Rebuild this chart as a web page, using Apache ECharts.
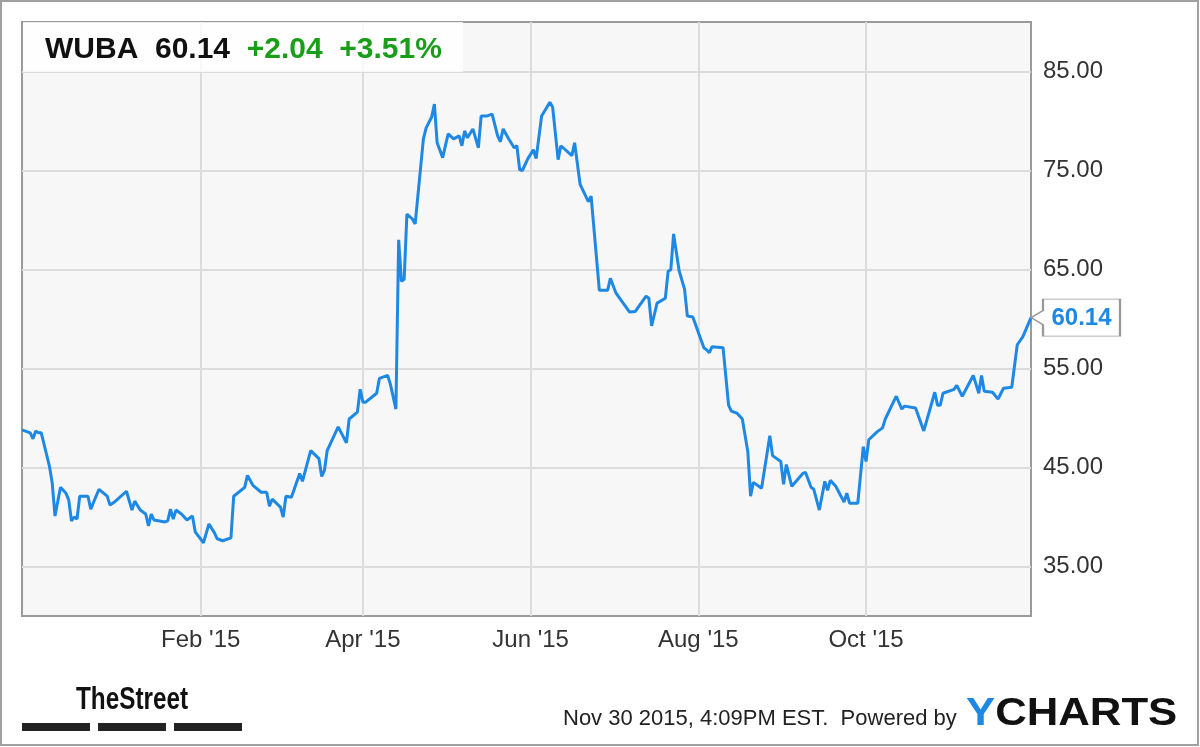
<!DOCTYPE html>
<html><head><meta charset="utf-8">
<script src="https://cdn.jsdelivr.net/npm/echarts@6/dist/echarts.min.js"></script>
<style>html,body{margin:0;padding:0;background:#fff}#c{width:1200px;height:747px}</style>
</head><body><div id="c"></div>
<script>
const ticker = 'WUBA';
const lastPrice = '60.14';
const change = '+2.04';
const changePct = '+3.51%';

const dates = [
'2014-11-28','2014-12-01','2014-12-02','2014-12-03','2014-12-04','2014-12-05','2014-12-08','2014-12-09','2014-12-10','2014-12-12',
'2014-12-14','2014-12-15','2014-12-16','2014-12-17','2014-12-18','2014-12-19','2014-12-22','2014-12-23','2014-12-26','2014-12-29',
'2014-12-30','2015-01-01','2015-01-05','2015-01-07','2015-01-08','2015-01-10','2015-01-12','2015-01-13','2015-01-14','2015-01-15',
'2015-01-19','2015-01-20','2015-01-21','2015-01-22','2015-01-23','2015-01-25','2015-01-27','2015-01-29','2015-01-30','2015-02-02',
'2015-02-04','2015-02-06','2015-02-07','2015-02-09','2015-02-12','2015-02-13','2015-02-17','2015-02-18','2015-02-20','2015-02-23',
'2015-02-25','2015-02-26','2015-02-27','2015-03-02','2015-03-03','2015-03-04','2015-03-06','2015-03-09','2015-03-10','2015-03-13',
'2015-03-16','2015-03-17','2015-03-18','2015-03-19','2015-03-23','2015-03-26','2015-03-27','2015-03-30','2015-03-31','2015-04-01',
'2015-04-02','2015-04-06','2015-04-07','2015-04-10','2015-04-11','2015-04-13','2015-04-14','2015-04-15','2015-04-16','2015-04-17',
'2015-04-19','2015-04-20','2015-04-23','2015-04-24','2015-04-26','2015-04-27','2015-04-28','2015-04-30','2015-05-02','2015-05-04',
'2015-05-06','2015-05-07','2015-05-08','2015-05-09','2015-05-11','2015-05-13','2015-05-14','2015-05-16','2015-05-18','2015-05-20',
'2015-05-21','2015-05-22','2015-05-24','2015-05-26','2015-05-27','2015-05-28','2015-05-29','2015-05-31','2015-06-02','2015-06-03',
'2015-06-05','2015-06-08','2015-06-09','2015-06-11','2015-06-12','2015-06-16','2015-06-17','2015-06-19','2015-06-22','2015-06-23',
'2015-06-26','2015-06-29','2015-06-30','2015-07-02','2015-07-07','2015-07-09','2015-07-13','2015-07-14','2015-07-15','2015-07-17',
'2015-07-20','2015-07-21','2015-07-22','2015-07-23','2015-07-25','2015-07-27','2015-07-28','2015-07-30','2015-08-03','2015-08-04',
'2015-08-05','2015-08-06','2015-08-10','2015-08-12','2015-08-13','2015-08-15','2015-08-17','2015-08-19','2015-08-20','2015-08-21',
'2015-08-24','2015-08-27','2015-08-28','2015-08-31','2015-09-01','2015-09-02','2015-09-04','2015-09-08','2015-09-09','2015-09-11',
'2015-09-12','2015-09-14','2015-09-16','2015-09-17','2015-09-18','2015-09-20','2015-09-23','2015-09-24','2015-09-25','2015-09-28',
'2015-09-30','2015-10-01','2015-10-02','2015-10-05','2015-10-07','2015-10-08','2015-10-12','2015-10-14','2015-10-15','2015-10-19',
'2015-10-22','2015-10-26','2015-10-27','2015-10-28','2015-10-29','2015-11-02','2015-11-03','2015-11-05','2015-11-09','2015-11-11',
'2015-11-12','2015-11-13','2015-11-16','2015-11-18','2015-11-20','2015-11-23','2015-11-25','2015-11-27','2015-11-30'
];
const prices = [
48.8,48.5,47.9,48.7,48.5,48.5,45.1,43.4,40.1,43.0,
42.4,41.7,39.6,40.0,39.8,42.1,42.1,40.8,42.8,42.1,
41.2,41.6,42.6,40.7,41.6,40.7,40.3,39.1,40.3,39.7,
39.5,39.6,40.8,39.8,40.7,40.3,39.7,40.1,38.5,37.4,
39.3,38.4,37.8,37.6,37.9,42.1,43.0,44.2,43.2,42.5,
42.5,41.1,41.8,41.0,40.0,42.1,42.0,44.4,43.6,46.7,
45.9,44.1,44.7,46.7,49.1,47.5,49.9,50.6,52.9,51.6,
51.6,52.5,54.0,54.3,53.4,50.9,68.0,63.8,64.0,70.6,
70.1,69.6,78.2,79.3,80.4,81.7,77.8,76.3,78.7,78.2,
78.5,77.5,79.0,78.3,79.2,77.3,80.5,80.5,80.7,78.5,
77.9,79.2,78.2,77.3,77.5,75.1,75.0,76.2,77.1,76.2,
80.5,81.9,81.4,76.1,77.5,76.5,77.8,73.6,71.85,72.4,
62.9,62.9,64.1,62.65,60.7,60.75,62.3,62.1,59.3,61.6,
62.1,64.8,65.0,68.6,64.9,63.0,60.3,60.2,57.1,56.9,
56.6,57.2,57.1,51.3,50.7,50.5,49.9,46.6,42.1,43.5,
42.9,48.2,46.2,45.6,43.3,45.3,43.1,44.4,44.5,43.0,
42.8,40.7,43.6,42.7,43.7,43.1,41.5,42.4,41.4,41.4,
47.1,45.6,47.8,48.6,49.0,49.9,52.2,50.9,51.2,51.0,
48.7,52.6,51.3,51.3,52.5,52.9,53.3,52.2,54.3,52.5,
54.3,52.7,52.6,51.9,53.0,53.1,57.4,58.2,60.14
];
const xStart = '2014-11-28';
const xEnd = '2015-11-30';
const xTickDates = ['2015-02-01','2015-04-01','2015-06-01','2015-08-01','2015-10-01'];
const xTickLabels = ["Feb '15","Apr '15","Jun '15","Aug '15","Oct '15"];
const yTicks = [35,45,55,65,75,85];
const yMin = 30, yMax = 90;
const footerText = 'Nov 30 2015, 4:09PM EST.  Powered by';

function ts(s){const p=s.split('-').map(Number);return Date.UTC(p[0],p[1]-1,p[2]);}
const xTickTs = xTickDates.map(ts);
const seriesData = dates.map((d,i)=>[ts(d),prices[i]]);
const lastIdx = dates.length-1;

const BLUE = '#1e88e5';
const GREEN = '#1a9e1a';
const FONT = '"Liberation Sans", Arial, sans-serif';
const chart = echarts.init(document.getElementById('c'), null, {renderer:'canvas'});
chart.setOption({
  animation:false,
  backgroundColor:'#fff',
  grid:{left:22,right:169,top:22,height:594,show:true,backgroundColor:'#f7f7f7',borderColor:'#9a9a9a',borderWidth:2,containLabel:false},
  xAxis:{
    type:'value', min:ts(xStart), max:ts(xEnd), scale:true,
    axisLine:{show:false},
    axisTick:{show:false, customValues:xTickTs},
    axisLabel:{customValues:xTickTs, margin:12, fontSize:24, color:'#333', fontFamily:FONT,
      formatter:function(v){const i=xTickTs.indexOf(Number(v));return i>=0?xTickLabels[i]:'';}},
    splitLine:{show:true,lineStyle:{color:'#dcdcdc',width:2}}
  },
  yAxis:{
    type:'value', position:'right', min:yMin, max:yMax,
    axisLine:{show:false},
    axisTick:{show:false, customValues:yTicks},
    axisLabel:{customValues:yTicks, margin:12, fontSize:24, color:'#333', fontFamily:FONT,
      formatter:function(v){return Number(v).toFixed(2);}},
    splitLine:{show:true,lineStyle:{color:'#dcdcdc',width:2}}
  },
  series:[{
    type:'line', data:seriesData, showSymbol:false, clip:false,
    lineStyle:{color:BLUE,width:3}, itemStyle:{color:BLUE},
    markPoint:{
      silent:true,
      symbol:'path://M0 18.5 L12 11.5 L12 0 L89 0 L89 37 L12 37 L12 25.5 Z',
      symbolSize:[89,37], symbolOffset:[44.5,0],
      itemStyle:{color:'#fff',borderColor:'#999',borderWidth:1.5},
      label:{show:true,position:'inside',offset:[6,1],color:BLUE,fontWeight:'bold',fontSize:24,fontFamily:FONT,
        formatter:function(p){return Number(p.value).toFixed(2);}},
      data:[{coord:[seriesData[lastIdx][0],prices[lastIdx]],value:prices[lastIdx]}]
    }
  }],
  graphic:[
    {type:'rect',z:100,shape:{x:1,y:1,width:1197,height:744},style:{fill:'none',stroke:'#a0a0a0',lineWidth:2}},
    {type:'rect',z:50,shape:{x:23,y:22,width:440,height:50},style:{fill:'rgba(255,255,255,0.8)'}},
    {type:'text',z:51,x:45,y:50,style:{
      text:'{k|'+ticker+'}  {k|'+lastPrice+'}  {g|'+change+'}  {g|'+changePct+'}',
      textVerticalAlign:'middle',
      rich:{k:{fill:'#111',fontSize:30,fontWeight:'bold',fontFamily:FONT},
            g:{fill:GREEN,fontSize:30,fontWeight:'bold',fontFamily:FONT}},
      font:'bold 30px "Liberation Sans"'
    }},
    {type:'text',z:51,x:76,y:700,scaleX:0.76,style:{text:'TheStreet',font:'bold 32px "Liberation Sans"',fill:'#111',textVerticalAlign:'middle'}},
    {type:'rect',z:51,shape:{x:22,y:723,width:68,height:8},style:{fill:'#222'}},
    {type:'rect',z:51,shape:{x:98,y:723,width:68,height:8},style:{fill:'#222'}},
    {type:'rect',z:51,shape:{x:174,y:723,width:68,height:8},style:{fill:'#222'}},
    {type:'text',z:51,x:563,y:719,style:{text:footerText,font:'22px "Liberation Sans"',fill:'#222',textVerticalAlign:'middle'}},
    {type:'text',z:51,x:966,y:715,scaleX:1.15,style:{text:'{y|Y}{c|CHARTS}',textVerticalAlign:'middle',
      rich:{y:{fill:BLUE,fontSize:38,fontWeight:'bold',fontFamily:FONT},c:{fill:'#111',fontSize:38,fontWeight:'bold',fontFamily:FONT}}}}
  ]
});
</script></body></html>
